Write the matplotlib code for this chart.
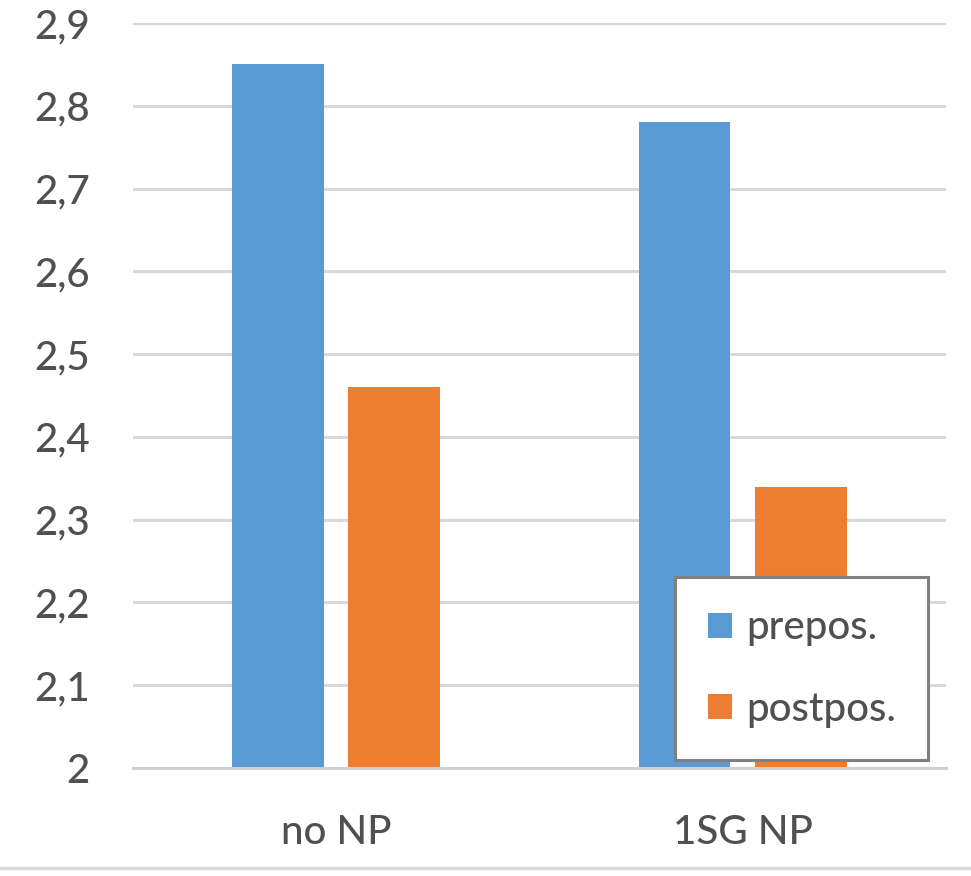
import matplotlib.pyplot as plt
import numpy as np

plt.rcParams['font.family'] = ['Lato', 'DejaVu Sans']

# data
categorias = ['no NP', '1SG NP']
prepos = [2.85, 2.78]
postpos = [2.46, 2.34]
yticks = [2.0, 2.1, 2.2, 2.3, 2.4, 2.5, 2.6, 2.7, 2.8, 2.9]
ytick_labels = ['2', '2,1', '2,2', '2,3', '2,4', '2,5', '2,6', '2,7', '2,8', '2,9']

azul = '#5B9BD5'
naranja = '#ED7D31'
gris_txt = '#505050'

fig = plt.figure(figsize=(9.71, 8.76), dpi=100)
ax = fig.add_axes([0.137, 0.1233, 0.837, 0.8504])

x = np.arange(len(categorias))
ancho = 0.226
desp = 0.143
ax.bar(x - desp, np.array(prepos) - 2.0, ancho, bottom=2.0, color=azul, label='prepos.', zorder=3)
ax.bar(x + desp, np.array(postpos) - 2.0, ancho, bottom=2.0, color=naranja, label='postpos.', zorder=3)

ax.set_xlim(-0.5, 1.5)
ax.set_ylim(2.0, 2.9)
ax.set_yticks(yticks)
ax.set_yticklabels(ytick_labels)
ax.set_xticks(x)
ax.set_xticklabels(categorias)
ax.tick_params(axis='y', length=0, pad=31, labelsize=29, labelcolor=gris_txt)
ax.tick_params(axis='x', length=0, pad=33, labelsize=29, labelcolor=gris_txt)
for t in ax.get_xticklabels() + ax.get_yticklabels():
    t.set_fontweight('medium')

ax.grid(axis='y', color='#D9D9D9', linewidth=2.2, zorder=0)
for s in ['top', 'right', 'left']:
    ax.spines[s].set_visible(False)
ax.spines['bottom'].set_color('#D0D0D0')
ax.spines['bottom'].set_linewidth(2.2)
ax.spines['bottom'].set_zorder(4)

leg = fig.legend(loc='lower right', bbox_to_anchor=(0.9557, 0.1324), fontsize=29,
                 frameon=True, fancybox=False, framealpha=1, handlelength=0.6,
                 handleheight=0.6, handletextpad=0.35, labelspacing=1.1,
                 borderpad=0.8, borderaxespad=0)
leg.get_frame().set_edgecolor('#808080')
leg.get_frame().set_linewidth(2.2)
leg.set_zorder(10)
for t in leg.get_texts():
    t.set_color(gris_txt)
    t.set_fontweight('medium')

# linea gris inferior
fig.add_artist(plt.Line2D([0, 1], [0.009, 0.009], transform=fig.transFigure,
                          color='#D9D9D9', linewidth=2.5))

fig.savefig('out.png', dpi=100)
